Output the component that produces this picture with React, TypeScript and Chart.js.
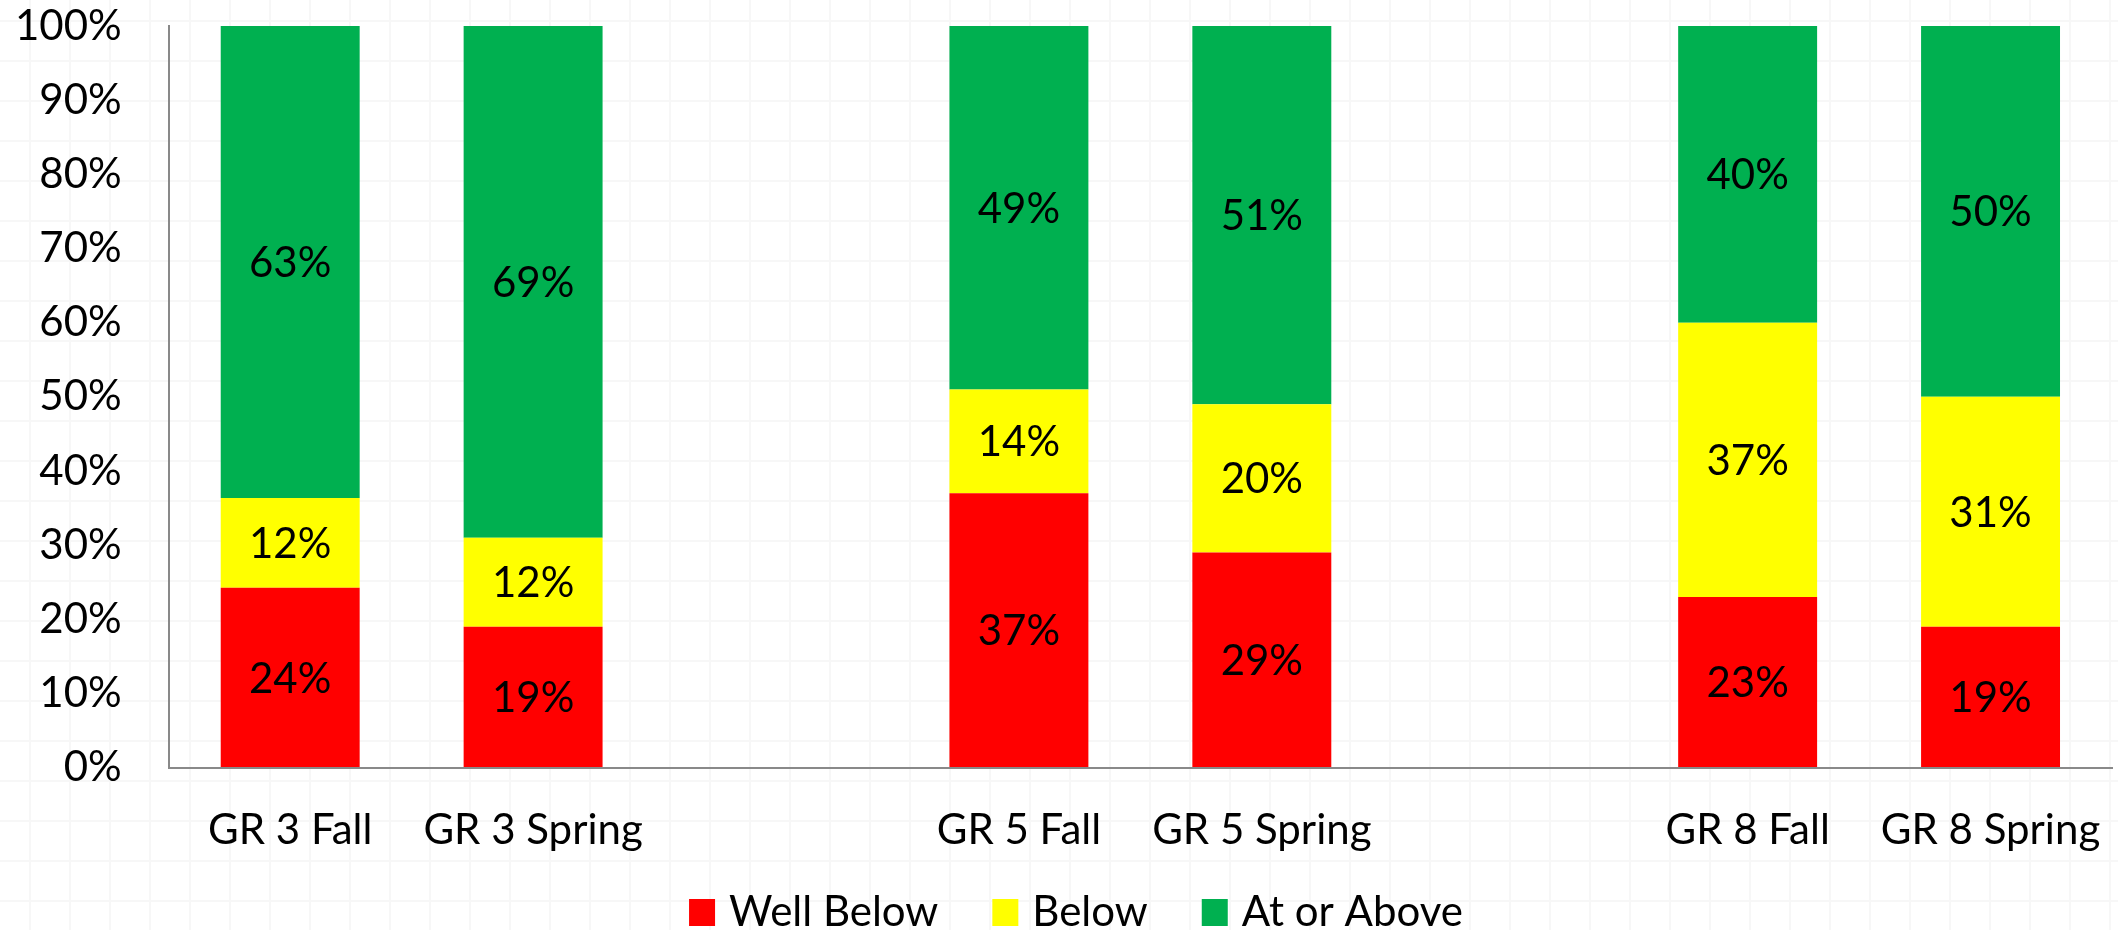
import React, { useEffect, useRef } from "react";
import { Chart, registerables } from "chart.js";

Chart.register(...registerables);

// ---- data ----
const categories = ["GR 3 Fall", "GR 3 Spring", "", "GR 5 Fall", "GR 5 Spring", "", "GR 8 Fall", "GR 8 Spring"];
const wellBelow = [24, 19, null, 37, 29, null, 23, 19];
const below = [12, 12, null, 14, 20, null, 37, 31];
const atOrAbove = [63, 69, null, 49, 51, null, 40, 50];
const seriesNames = ["Well Below", "Below", "At or Above"];
const seriesColors = ["#FF0000", "#FFFF00", "#00B050"];
const yTickValues = [0, 10, 20, 30, 40, 50, 60, 70, 80, 90, 100];

const FONT = "Lato, 'Noto Sans', sans-serif";
const FONT_SIZE = 42;

const seriesRaw = [wellBelow, below, atOrAbove];
const totals = categories.map((_, i) =>
  seriesRaw.reduce((s, arr) => s + (arr[i] == null ? 0 : (arr[i] as number)), 0)
);
const toPct = (arr: (number | null)[]) =>
  arr.map((v, i) => (v == null || totals[i] === 0 ? null : (v / totals[i]) * 100));

// draws value labels centred in each stacked segment
const segmentLabels = {
  id: "segmentLabels",
  afterDatasetsDraw(chart: any) {
    const ctx = chart.ctx;
    ctx.save();
    ctx.font = `${FONT_SIZE}px ${FONT}`;
    ctx.fillStyle = "#000";
    ctx.textAlign = "center";
    ctx.textBaseline = "alphabetic";
    const capHalf = (FONT_SIZE * 0.717) / 2;
    chart.data.datasets.forEach((ds: any, di: number) => {
      const meta = chart.getDatasetMeta(di);
      meta.data.forEach((el: any, i: number) => {
        const raw = ds.rawValues[i];
        if (raw == null) return;
        const cy = (el.y + el.base) / 2;
        ctx.fillText(`${raw}%`, el.x, cy + capHalf);
      });
    });
    ctx.restore();
  },
};

// bottom legend drawn on canvas
const bottomLegend = {
  id: "bottomLegend",
  afterDraw(chart: any) {
    const ctx = chart.ctx;
    ctx.save();
    ctx.font = `${FONT_SIZE}px ${FONT}`;
    const box = 26;
    const gapBoxText = 14;
    const gapItems = 54;
    const items = chart.data.datasets.map((ds: any) => ({
      text: ds.label,
      color: ds.backgroundColor,
      w: ctx.measureText(ds.label).width,
    }));
    const total =
      items.reduce((s: number, it: any) => s + box + gapBoxText + it.w, 0) + gapItems * (items.length - 1);
    let x = chart.width / 2 + 17 - total / 2;
    const baseline = chart.height - 4;
    const boxTop = baseline - 27;
    ctx.textAlign = "left";
    ctx.textBaseline = "alphabetic";
    items.forEach((it: any) => {
      ctx.fillStyle = it.color;
      ctx.fillRect(x, boxTop, box, 27);
      x += box + gapBoxText;
      ctx.fillStyle = "#000";
      ctx.fillText(it.text, x, baseline);
      x += it.w + gapItems;
    });
    ctx.restore();
  },
};

export default function App() {
  const canvasRef = useRef<HTMLCanvasElement | null>(null);

  useEffect(() => {
    if (!canvasRef.current) return;
    const chart = new Chart(canvasRef.current, {
      type: "bar",
      data: {
        labels: categories,
        datasets: seriesRaw.map((arr, k) => ({
          label: seriesNames[k],
          data: toPct(arr),
          rawValues: arr,
          backgroundColor: seriesColors[k],
          borderWidth: 0,
          barPercentage: 1,
          categoryPercentage: 0.572,
        })) as any,
      },
      options: {
        animation: false,
        responsive: true,
        maintainAspectRatio: false,
        layout: { padding: { left: 15, right: 6, top: 26, bottom: 74 } },
        plugins: {
          legend: { display: false },
          tooltip: { enabled: false },
          title: { display: false },
        },
        scales: {
          x: {
            stacked: true,
            grid: {
              display: true,
              drawOnChartArea: false,
              drawTicks: true,
              tickLength: 38,
              color: "transparent",
            },
            border: { display: true, color: "#898989", width: 2 },
            ticks: {
              color: "#000",
              font: { family: FONT, size: FONT_SIZE },
              padding: 0,
              maxRotation: 0,
              autoSkip: false,
            },
          },
          y: {
            stacked: true,
            min: 0,
            max: 100,
            afterBuildTicks: (axis: any) => {
              axis.ticks = yTickValues.map((v) => ({ value: v }));
            },
            grid: {
              display: true,
              drawOnChartArea: false,
              drawTicks: true,
              tickLength: 47,
              color: "transparent",
            },
            border: { display: true, color: "#898989", width: 2 },
            ticks: {
              color: "#000",
              font: { family: FONT, size: FONT_SIZE },
              padding: 0,
              callback: (v: any) => `${v}%`,
            },
          },
        },
      },
      plugins: [segmentLabels, bottomLegend],
    });
    return () => chart.destroy();
  }, []);

  return (
    <div
      style={{
        position: "fixed",
        left: 0,
        top: 0,
        width: 2118,
        height: 930,
        backgroundColor: "#ffffff",
        backgroundImage:
          "linear-gradient(to right, #f7f7f7 2px, transparent 2px), linear-gradient(to bottom, #f7f7f7 2px, transparent 2px)",
        backgroundSize: "40px 40px",
        backgroundPosition: "29px 20px",
      }}
    >
      <canvas ref={canvasRef} />
    </div>
  );
}
